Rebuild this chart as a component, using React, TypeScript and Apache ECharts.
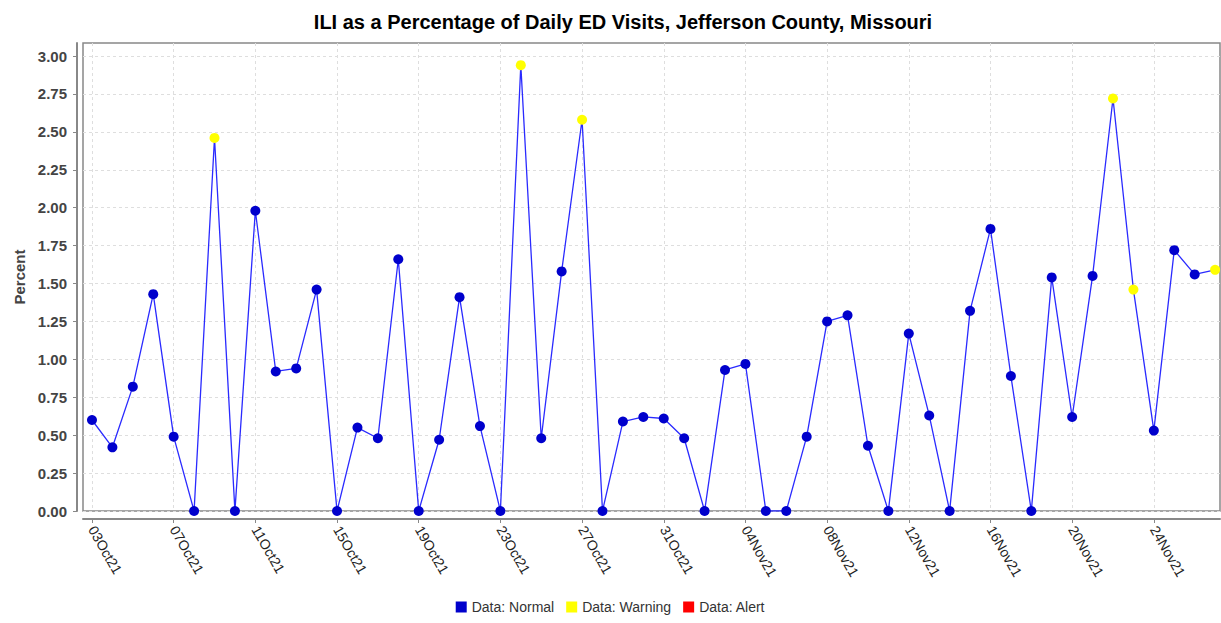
import React, { useEffect, useRef } from "react";
import * as echarts from "echarts";

const dates = [
  "03Oct21", "04Oct21", "05Oct21", "06Oct21", "07Oct21", "08Oct21", "09Oct21", "10Oct21",
  "11Oct21", "12Oct21", "13Oct21", "14Oct21", "15Oct21", "16Oct21", "17Oct21", "18Oct21",
  "19Oct21", "20Oct21", "21Oct21", "22Oct21", "23Oct21", "24Oct21", "25Oct21", "26Oct21",
  "27Oct21", "28Oct21", "29Oct21", "30Oct21", "31Oct21", "01Nov21", "02Nov21", "03Nov21",
  "04Nov21", "05Nov21", "06Nov21", "07Nov21", "08Nov21", "09Nov21", "10Nov21", "11Nov21",
  "12Nov21", "13Nov21", "14Nov21", "15Nov21", "16Nov21", "17Nov21", "18Nov21", "19Nov21",
  "20Nov21", "21Nov21", "22Nov21", "23Nov21", "24Nov21", "25Nov21", "26Nov21", "27Nov21",
];

const values = [
  0.6, 0.42, 0.82, 1.43, 0.49, 0.0, 2.46, 0.0,
  1.98, 0.92, 0.94, 1.46, 0.0, 0.55, 0.48, 1.66,
  0.0, 0.47, 1.41, 0.56, 0.0, 2.94, 0.48, 1.58,
  2.58, 0.0, 0.59, 0.62, 0.61, 0.48, 0.0, 0.93,
  0.97, 0.0, 0.0, 0.49, 1.25, 1.29, 0.43, 0.0,
  1.17, 0.63, 0.0, 1.32, 1.86, 0.89, 0.0, 1.54,
  0.62, 1.55, 2.72, 1.46, 0.53, 1.72, 1.56, 1.59,
];

// N = normal, W = warning, A = alert
const status = [
  "N", "N", "N", "N", "N", "N", "W", "N",
  "N", "N", "N", "N", "N", "N", "N", "N",
  "N", "N", "N", "N", "N", "W", "N", "N",
  "W", "N", "N", "N", "N", "N", "N", "N",
  "N", "N", "N", "N", "N", "N", "N", "N",
  "N", "N", "N", "N", "N", "N", "N", "N",
  "N", "N", "W", "W", "N", "N", "N", "W",
];

const yTicks = [0, 0.25, 0.5, 0.75, 1.0, 1.25, 1.5, 1.75, 2.0, 2.25, 2.5, 2.75, 3.0];
const xTickEvery = 4;

const title = "ILI as a Percentage of Daily ED Visits, Jefferson County, Missouri";
const legendNames = ["Data: Normal", "Data: Warning", "Data: Alert"];
const statusCodes = ["N", "W", "A"];
const statusColors = ["#0000cc", "#ffff00", "#ff0000"];

export default function App() {
  const ref = useRef<HTMLDivElement>(null);
  useEffect(() => {
    if (!ref.current) return;
    const chart = echarts.init(ref.current, null, { renderer: "svg" });
    const xTicks = dates.map((_, i) => i).filter((i) => i % xTickEvery === 0);
    const font = "'Liberation Sans', Arial, sans-serif";
    chart.setOption({
      animation: false,
      backgroundColor: "#ffffff",
      textStyle: { fontFamily: font },
      title: {
        text: title,
        left: 618,
        top: 7,
        textAlign: "center",
        textStyle: { fontSize: 20, fontWeight: "bold", color: "#000", fontFamily: font },
      },
      legend: {
        data: legendNames,
        bottom: 4,
        left: "center",
        icon: "rect",
        itemWidth: 11,
        itemHeight: 11,
        itemGap: 12,
        textStyle: { fontSize: 14, color: "#333", fontFamily: font },
      },
      grid: {
        left: 83,
        right: 1,
        top: 43,
        bottom: 112,
        show: true,
        borderColor: "#888",
        borderWidth: 1.5,
        backgroundColor: "#fff",
      },
      xAxis: {
        type: "value",
        min: -0.44,
        max: 55.24,
        offset: 8,
        axisLine: { show: true, onZero: false, lineStyle: { color: "#888", width: 2 } },
        axisTick: { show: true, length: 4, customValues: xTicks, lineStyle: { color: "#888" } },
        axisLabel: {
          customValues: xTicks,
          rotate: -60,
          margin: 8,
          fontSize: 14,
          color: "#222",
          fontFamily: font,
          formatter: (v: number) => dates[Math.round(v)] ?? "",
        },
        splitLine: { show: true, lineStyle: { color: "#dedede", type: [3, 3], width: 1 } },
      },
      yAxis: {
        type: "value",
        min: 0,
        max: 3.086,
        offset: 6,
        name: "Percent",
        nameLocation: "middle",
        nameGap: 50,
        nameTextStyle: { fontSize: 15, fontWeight: "bold", color: "#444", fontFamily: font },
        axisLine: { show: true, onZero: false, lineStyle: { color: "#888", width: 2 } },
        axisTick: { show: true, length: 4, customValues: yTicks, lineStyle: { color: "#888" } },
        axisLabel: {
          customValues: yTicks,
          margin: 10,
          fontSize: 15,
          fontWeight: "bold",
          color: "#444",
          fontFamily: font,
          formatter: (v: number) => v.toFixed(2),
        },
        splitLine: { show: true, lineStyle: { color: "#dedede", type: [3, 3], width: 1 } },
      },
      series: [
        {
          name: "ILI",
          type: "line",
          data: values.map((v, i) => [i, v]),
          symbol: "none",
          lineStyle: { color: "#2a2aff", width: 1.3 },
          z: 2,
        },
        ...legendNames.map((name, k) => ({
          name,
          type: "scatter",
          data: values
            .map((v, i) => [i, v])
            .filter((_, i) => status[i] === statusCodes[k]),
          symbol: "circle",
          symbolSize: 10,
          itemStyle: { color: statusColors[k], opacity: 1 },
          z: 3,
        })),
      ],
    });
    return () => chart.dispose();
  }, []);
  return (
    <div
      ref={ref}
      style={{ position: "absolute", left: 0, top: 0, width: 1221, height: 623 }}
    />
  );
}
